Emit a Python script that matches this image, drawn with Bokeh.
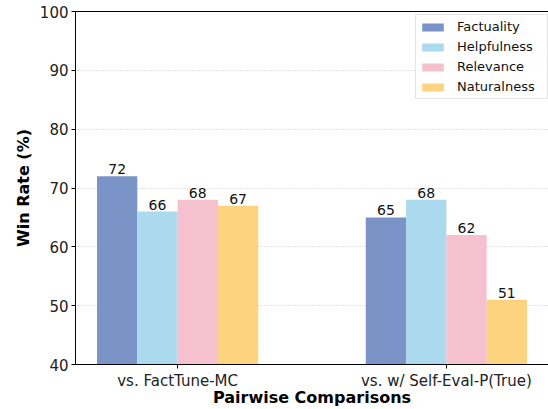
from bokeh.plotting import figure
from bokeh.models import (ColumnDataSource, FixedTicker, Range1d, Legend, LegendItem,
                          LinearAxis, LabelSet)
from bokeh.core.properties import value
from bokeh.embed import file_html
from bokeh.resources import INLINE

groups = ["vs. FactTune-MC", "vs. w/ Self-Eval-P(True)"]
series = ["Factuality", "Helpfulness", "Relevance", "Naturalness"]
factuality = [72, 65]
helpfulness = [66, 68]
relevance = [68, 62]
naturalness = [67, 51]
colors = ["#7b94c7", "#abd9ee", "#f6c1cf", "#fdd380"]
y_ticks = [40, 50, 60, 70, 80, 90, 100]

values = [factuality, helpfulness, relevance, naturalness]
bar_w = 0.15
FONT = "DejaVu Sans"

p = figure(width=548, height=409, output_backend="svg", toolbar_location=None,
           x_range=Range1d(-0.38, 1.38), y_range=Range1d(40, 100),
           min_border_left=75, min_border_right=0, min_border_top=11, min_border_bottom=45)
p.outline_line_color = None
p.background_fill_color = "white"
p.border_fill_color = "white"

items = []
for j, (name, vals, col) in enumerate(zip(series, values, colors)):
    xs = [i + (j - 1.5) * bar_w for i in range(len(groups))]
    src = ColumnDataSource(dict(x=xs, top=vals, label=[str(v) for v in vals]))
    r = p.vbar(x="x", top="top", bottom=40, width=bar_w, source=src,
               fill_color=col, line_color=None)
    items.append(LegendItem(label=name, renderers=[r]))
    lbl = LabelSet(x="x", y="top", text="label", source=src, text_align="center",
                   text_baseline="alphabetic", y_offset=2, text_font=value(FONT),
                   text_font_size="14px", text_color="#111111")
    p.add_layout(lbl)

# axes
p.xaxis.ticker = FixedTicker(ticks=list(range(len(groups))))
p.xaxis.major_label_overrides = {i: g for i, g in enumerate(groups)}
p.yaxis.ticker = FixedTicker(ticks=y_ticks)
for ax in (p.xaxis[0], p.yaxis[0]):
    ax.axis_line_color = "black"
    ax.axis_line_width = 1
    ax.major_tick_line_color = "black"
    ax.major_tick_in = 0
    ax.major_tick_out = 4
    ax.minor_tick_line_color = None
    ax.major_label_text_font = FONT
    ax.major_label_text_font_size = "15px"
    ax.major_label_text_color = "#222222"
    ax.axis_label_text_font = FONT
    ax.axis_label_text_font_size = "16px"
    ax.axis_label_text_font_style = "bold"
    ax.axis_label_text_color = "black"
p.xaxis.axis_label = "Pairwise Comparisons"
p.yaxis.axis_label = "Win Rate (%)"
p.xaxis.major_label_standoff = 3
p.xaxis.axis_label_standoff = -5
p.yaxis.major_label_standoff = 3
p.yaxis.axis_label_standoff = 4

top_axis = LinearAxis(ticker=FixedTicker(ticks=[]), major_label_text_font_size="0px",
                      major_tick_out=0, minor_tick_out=0, axis_line_color="black")
p.add_layout(top_axis, "above")

p.xgrid.grid_line_color = None
p.ygrid.grid_line_color = "#bbbbbb"
p.ygrid.grid_line_dash = "1 2"
p.ygrid.grid_line_width = 0.8

legend = Legend(items=items, location=(340, 265), orientation="vertical",
                label_text_font=FONT, label_text_font_size="13px",
                label_text_color="#111111",
                glyph_width=27, glyph_height=10, label_standoff=11, spacing=3,
                label_height=17, label_width=87,
                padding=3, margin=0, border_line_color="#cccccc",
                border_line_width=1, background_fill_alpha=0.85)
p.add_layout(legend)

open("out.html", "w").write(file_html(p, INLINE))
